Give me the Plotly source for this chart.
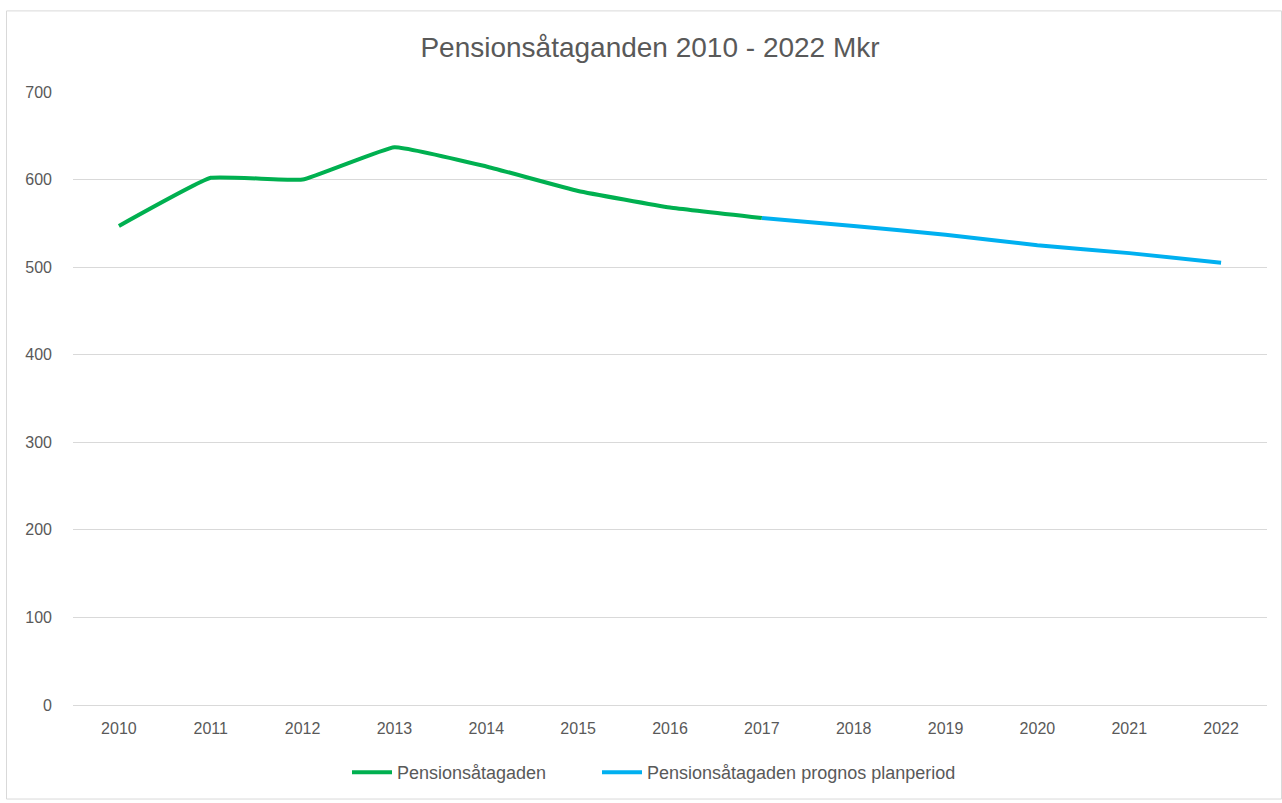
import plotly.graph_objects as go

years = [2010, 2011, 2012, 2013, 2014, 2015, 2016, 2017, 2018, 2019, 2020, 2021, 2022]
actual_years = years[:8]
actual_values = [547, 602, 600, 637, 615, 587, 568, 556]
forecast_years = years[7:]
forecast_values = [556, 547, 537, 525, 516, 505]
y_ticks = [0, 100, 200, 300, 400, 500, 600, 700]

title_text = "Pensionsåtaganden 2010 - 2022 Mkr"
name_actual = "Pensionsåtagaden"
name_forecast = "Pensionsåtagaden prognos planperiod"

FONT = "Liberation Sans, Arial, sans-serif"
GREY = "#595959"

fig = go.Figure()
fig.add_trace(go.Scatter(
    x=actual_years, y=actual_values, mode="lines", name=name_actual,
    line=dict(color="#00B050", width=4, shape="spline", smoothing=0.3),
    legend="legend",
))
fig.add_trace(go.Scatter(
    x=forecast_years, y=forecast_values, mode="lines", name=name_forecast,
    line=dict(color="#00B0F0", width=4, shape="spline", smoothing=0.3),
    legend="legend2",
))

L, R, T, B = 73, 15, 92, 95
W, H = 1282, 803
pw, ph = W - L - R, H - T - B

legend_common = dict(orientation="h", xanchor="left", y=(708 - 776) / ph, yanchor="middle",
                     font=dict(size=18, color=GREY, family=FONT), itemwidth=40,
                     bgcolor="rgba(0,0,0,0)")

fig.update_layout(
    width=W, height=H,
    margin=dict(l=L, r=R, t=T, b=B),
    paper_bgcolor="white", plot_bgcolor="white",
    font=dict(family=FONT, color=GREY, size=16),
    title=dict(text=title_text, x=(650 - L) / pw, xref="paper", xanchor="center",
               y=1 - 47 / H, yref="container", yanchor="middle",
               font=dict(size=28, color=GREY, family=FONT)),
    xaxis=dict(range=[2009.5, 2022.5], tickmode="array", tickvals=years,
               ticktext=[str(y) for y in years], showgrid=False, zeroline=False,
               showline=False, ticks="", ticklabelstandoff=12,
               tickfont=dict(size=16, color=GREY)),
    yaxis=dict(range=[0, 700], tickvals=y_ticks, showgrid=True, gridcolor="#D9D9D9",
               gridwidth=1, zeroline=True, zerolinecolor="#D9D9D9", zerolinewidth=1,
               showline=False, ticks="",
               ticklabelstandoff=20, tickfont=dict(size=16, color=GREY)),
    legend=dict(x=(347 - L) / pw, **legend_common),
    legend2=dict(x=(597 - L) / pw, **legend_common),
    showlegend=True,
)

fig.add_shape(type="rect", xref="paper", yref="paper",
              x0=(6.5 - L) / pw, x1=(1281.5 - L) / pw,
              y0=(708 - 802.5) / ph, y1=(708 - 10.5) / ph,
              line=dict(color="#D9D9D9", width=1), fillcolor="rgba(0,0,0,0)", layer="below")

fig.write_html("out.html", config={"displayModeBar": False},
               post_script="document.body.style.margin='0';document.body.style.padding='0';")
